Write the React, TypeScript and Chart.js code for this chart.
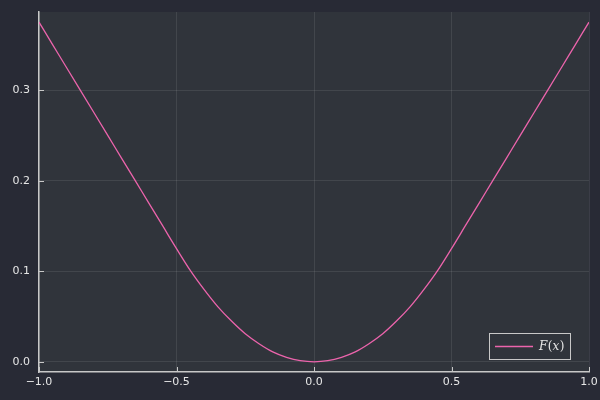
import React, { useEffect, useRef } from "react";
import { Chart, registerables } from "chart.js";

Chart.register(...registerables);

const xValues = [
  -1.0, -0.95, -0.9, -0.85, -0.8, -0.75, -0.7, -0.65, -0.6, -0.55, -0.5,
  -0.45, -0.4, -0.35, -0.3, -0.25, -0.2, -0.15, -0.1, -0.05, 0.0,
  0.05, 0.1, 0.15, 0.2, 0.25, 0.3, 0.35, 0.4, 0.45, 0.5,
  0.55, 0.6, 0.65, 0.7, 0.75, 0.8, 0.85, 0.9, 0.95, 1.0,
];
const fValues = [
  0.375, 0.35, 0.325, 0.3, 0.275, 0.25, 0.225, 0.2, 0.175, 0.15, 0.125,
  0.101, 0.08, 0.061, 0.045, 0.031, 0.02, 0.011, 0.005, 0.00125, 0.0,
  0.00125, 0.005, 0.011, 0.02, 0.031, 0.045, 0.061, 0.08, 0.101, 0.125,
  0.15, 0.175, 0.2, 0.225, 0.25, 0.275, 0.3, 0.325, 0.35, 0.375,
];
const xTicks = [-1.0, -0.5, 0.0, 0.5, 1.0];
const yTicks = [0.0, 0.1, 0.2, 0.3];
const seriesLabel = "F(x)";

const OUTER_BG = "#282a35";
const INNER_BG = "#30343b";
const LINE_COLOR = "#ec64ac";
const AXIS_COLOR = "#c8c8c8";
const TEXT_COLOR = "#e6e6e6";
const GRID_COLOR = "rgba(255,255,255,0.09)";

const fmt = (v: number) => {
  const s = Math.abs(v).toFixed(1);
  return v < -1e-9 ? "\u2212" + s : s;
};

const zeroPad = (scale: any) => {
  scale.paddingTop = 0;
  scale.paddingBottom = 0;
  scale.paddingLeft = 0;
  scale.paddingRight = 0;
};

const bgPlugin = {
  id: "bgPlugin",
  beforeDraw(chart: any) {
    const { ctx, chartArea } = chart;
    ctx.save();
    ctx.fillStyle = OUTER_BG;
    ctx.fillRect(0, 0, chart.width, chart.height);
    ctx.fillStyle = INNER_BG;
    ctx.fillRect(chartArea.left, chartArea.top, chartArea.right - chartArea.left, chartArea.bottom - chartArea.top);
    ctx.restore();
  },
  afterDatasetsDraw(chart: any) {
    const { ctx, chartArea, scales } = chart;
    ctx.save();
    // inward tick marks
    ctx.strokeStyle = AXIS_COLOR;
    ctx.lineWidth = 1;
    xTicks.forEach((v) => {
      const px = Math.round(scales.x.getPixelForValue(v)) + 0.5;
      ctx.beginPath();
      ctx.moveTo(px, chartArea.bottom);
      ctx.lineTo(px, chartArea.bottom - 5);
      ctx.stroke();
    });
    yTicks.forEach((v) => {
      const py = Math.round(scales.y.getPixelForValue(v)) + 0.5;
      ctx.beginPath();
      ctx.moveTo(chartArea.left, py);
      ctx.lineTo(chartArea.left + 5, py);
      ctx.stroke();
    });
    // legend
    const bx = 489.5, by = 333.5, bw = 81, bh = 26;
    ctx.fillStyle = INNER_BG;
    ctx.fillRect(bx, by, bw, bh);
    ctx.strokeStyle = AXIS_COLOR;
    ctx.strokeRect(bx, by, bw, bh);
    ctx.strokeStyle = LINE_COLOR;
    ctx.lineWidth = 1.5;
    ctx.beginPath();
    ctx.moveTo(495, 346.5);
    ctx.lineTo(533, 346.5);
    ctx.stroke();
    ctx.fillStyle = TEXT_COLOR;
    ctx.textBaseline = "middle";
    ctx.textAlign = "left";
    let tx = 539;
    const ty = 347;
    const parts = [
      { t: "F", it: true },
      { t: "(", it: false },
      { t: "x", it: true },
      { t: ")", it: false },
    ];
    parts.forEach((p) => {
      ctx.font = (p.it ? "italic " : "") + "12px 'DejaVu Serif'";
      ctx.fillText(p.t, tx, ty);
      tx += ctx.measureText(p.t).width + (p.it ? 0.5 : 0);
    });
    ctx.restore();
  },
};

export default function App() {
  const ref = useRef<HTMLCanvasElement | null>(null);
  useEffect(() => {
    document.body.style.margin = "0";
    document.body.style.background = OUTER_BG;
    const canvas = ref.current;
    if (!canvas) return;
    const data = xValues.map((x, i) => ({ x, y: fValues[i] }));
    const chart = new Chart(canvas, {
      type: "scatter",
      data: {
        datasets: [
          {
            label: seriesLabel,
            data,
            showLine: true,
            borderColor: LINE_COLOR,
            backgroundColor: LINE_COLOR,
            borderWidth: 1.3,
            pointRadius: 0,
            cubicInterpolationMode: "monotone",
            fill: false,
          },
        ],
      },
      options: {
        responsive: false,
        animation: false,
        devicePixelRatio: 1,
        layout: { autoPadding: false, padding: { left: 0, right: 11, top: 12, bottom: 0 } },
        plugins: { legend: { display: false }, tooltip: { enabled: false } },
        scales: {
          x: {
            type: "linear",
            min: -1,
            max: 1,
            afterBuildTicks: (scale: any) => {
              scale.ticks = xTicks.map((v) => ({ value: v }));
            },
            afterFit: (scale: any) => {
              scale.height = 28;
              zeroPad(scale);
            },
            ticks: {
              color: TEXT_COLOR,
              font: { family: "'DejaVu Sans'", size: 11 },
              padding: 4,
              maxRotation: 0,
              autoSkip: false,
              callback: (v: any) => fmt(Number(v)),
            },
            grid: { color: GRID_COLOR, drawTicks: false, lineWidth: 1 },
            border: { color: AXIS_COLOR, width: 1.5 },
          },
          y: {
            type: "linear",
            min: -0.01125,
            max: 0.38625,
            afterBuildTicks: (scale: any) => {
              scale.ticks = yTicks.map((v) => ({ value: v }));
            },
            afterFit: (scale: any) => {
              scale.width = 39;
              zeroPad(scale);
            },
            ticks: {
              color: TEXT_COLOR,
              font: { family: "'DejaVu Sans'", size: 11 },
              padding: 9,
              autoSkip: false,
              callback: (v: any) => fmt(Number(v)),
            },
            grid: { color: GRID_COLOR, drawTicks: false, lineWidth: 1 },
            border: { color: AXIS_COLOR, width: 1.5 },
          },
        },
      },
      plugins: [bgPlugin],
    } as any);
    return () => chart.destroy();
  }, []);
  return <canvas ref={ref} width={600} height={400} style={{ display: "block" }} />;
}
